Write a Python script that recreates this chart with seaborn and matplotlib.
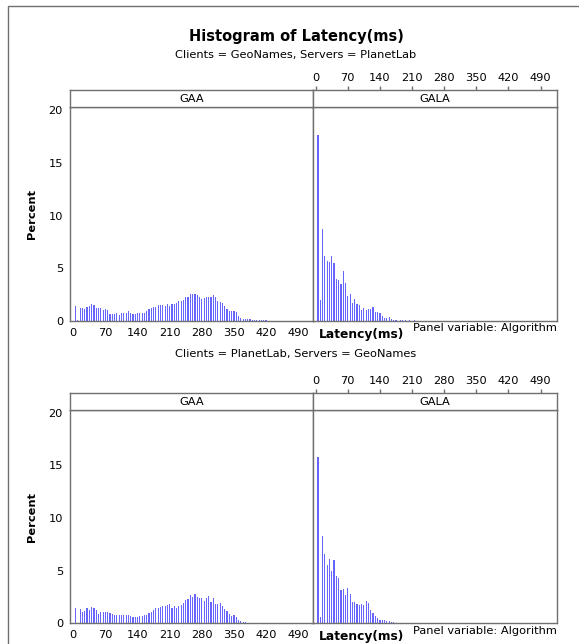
import numpy as np
import pandas as pd
import matplotlib
matplotlib.use("Agg")
import matplotlib.pyplot as plt
import seaborn as sns
from matplotlib.patches import Rectangle

# percent of requests per 5 ms latency bin (bin centres 5, 10, 15, ...)
bin_width = 5
gaa_geo_planet = [
    1.43, 0.1, 1.24, 1.24, 1.1, 1.37, 1.43, 1.62, 1.5, 1.2,
    1.2, 1.24, 1.05, 1.1, 1.0, 0.67, 0.64, 0.67, 0.73, 0.57,
    0.73, 0.73, 0.73, 0.92, 0.76, 0.64, 0.64, 0.73, 0.76, 0.8,
    0.76, 0.95, 1.1, 1.2, 1.37, 1.37, 1.53, 1.5, 1.53, 1.4,
    1.62, 1.46, 1.62, 1.62, 1.69, 1.85, 1.94, 2.0, 2.3, 2.3,
    2.58, 2.58, 2.55, 2.48, 2.3, 2.13, 2.17, 2.23, 2.26, 2.23,
    2.48, 2.26, 1.9, 1.8, 1.7, 1.43, 1.15, 0.95, 0.95, 0.95,
    0.89, 0.5, 0.3, 0.2, 0.2, 0.2, 0.15, 0.1, 0.1, 0.06,
    0.06, 0.06, 0.06, 0.06,
]
gala_geo_planet = [
    17.6, 1.96, 8.75, 6.16, 5.69, 5.56, 6.16, 5.47, 3.95, 3.89,
    3.5, 4.74, 3.6, 2.4, 2.56, 1.7, 2.08, 1.64, 1.49, 1.0,
    1.23, 1.0, 1.1, 1.1, 1.33, 0.85, 0.85, 0.73, 0.47, 0.28,
    0.28, 0.38, 0.15, 0.1, 0.06, 0.03, 0.06, 0.06, 0.06, 0.0,
    0.06, 0.0, 0.06,
]
gaa_planet_geo = [
    1.41, 0.06, 1.35, 1.12, 1.15, 1.44, 1.22, 1.54, 1.41, 1.22,
    0.93, 1.03, 1.03, 1.03, 1.03, 0.96, 0.87, 0.77, 0.77, 0.77,
    0.77, 0.77, 0.77, 0.77, 0.67, 0.61, 0.58, 0.64, 0.67, 0.67,
    0.8, 0.77, 0.99, 1.09, 1.22, 1.44, 1.44, 1.54, 1.6, 1.67,
    1.76, 1.83, 1.5, 1.67, 1.44, 1.63, 1.76, 1.89, 2.18, 2.3,
    2.69, 2.5, 2.79, 2.5, 2.37, 2.37, 2.12, 2.37, 2.6, 2.05,
    2.37, 1.83, 1.83, 1.96, 1.67, 1.35, 1.19, 0.87, 0.74, 0.77,
    0.64, 0.29, 0.22, 0.16, 0.13, 0.06, 0.06, 0.0, 0.0, 0.0,
    0.0, 0.0, 0.0, 0.0, 0.0, 0.0, 0.0, 0.0, 0.0, 0.03,
]
gala_planet_geo = [
    15.8, 0.56, 8.25, 6.6, 5.56, 6.1, 5.0, 6.03, 4.53, 4.31,
    3.19, 3.28, 2.66, 3.38, 2.75, 2.06, 2.0, 1.81, 1.75, 1.84,
    1.69, 2.1, 1.88, 1.25, 0.94, 0.7, 0.47, 0.31, 0.31, 0.31,
    0.25, 0.25, 0.1, 0.1, 0.06, 0.06,
]

algorithms = ["GAA", "GALA"]
subtitles = ["Clients = GeoNames, Servers = PlanetLab",
             "Clients = PlanetLab, Servers = GeoNames"]
series = [[gaa_geo_planet, gala_geo_planet], [gaa_planet_geo, gala_planet_geo]]
x_ticks = [0, 70, 140, 210, 280, 350, 420, 490]
y_ticks = [0, 5, 10, 15, 20]

W, H = 579, 644
BAR = "#6666ff"
GRID = "#707070"

sns.set_theme(style="white")
plt.rcParams["font.family"] = ["DejaVu Sans"]
plt.rcParams["text.color"] = "black"
plt.rcParams["axes.edgecolor"] = GRID
plt.rcParams["axes.linewidth"] = 1.0

fig = plt.figure(figsize=(W / 100, H / 100), dpi=100)


def px_axes(x0, y0, x1, y1):
    return fig.add_axes([x0 / W, 1 - y1 / H, (x1 - x0) / W, (y1 - y0) / H])


# outer frame of the graph (right / bottom edges fall outside the crop)
fig.add_artist(Rectangle((8 / W, -0.05), 1.2, 1 - 6 / H + 0.05, transform=fig.transFigure,
                         fill=False, edgecolor=GRID, linewidth=1.0))

fig.text(296 / W, 1 - 37 / H, "Histogram of Latency(ms)", ha="center", va="center",
         fontsize=10.5, fontweight="bold", color="black")

rows = [
    dict(sub_y=55, strip=(89.6, 107.3), plot=(107.3, 321), ylim=20.27),
    dict(sub_y=354, strip=(392.7, 410), plot=(410, 623.3), ylim=20.25),
]
cols = [dict(x=(70, 312.7), xlim=(-7.2, 521.6)),
        dict(x=(312.7, 556.7), xlim=(-6.5, 525))]

for r, row in enumerate(rows):
    fig.text(296 / W, 1 - row["sub_y"] / H, subtitles[r], ha="center", va="center",
             fontsize=8.2, color="black")
    for c, col in enumerate(cols):
        vals = series[r][c]
        df = pd.DataFrame({
            "latency": bin_width * np.arange(1, len(vals) + 1),
            "percent": vals,
        })
        ax = px_axes(col["x"][0], row["plot"][0], col["x"][1], row["plot"][1])
        sns.histplot(data=df, x="latency", weights="percent", binwidth=bin_width,
                     binrange=(bin_width / 2, bin_width * (len(vals) + 0.5)),
                     shrink=0.5, color=BAR, alpha=1, linewidth=0, ax=ax)
        ax.set_xlim(*col["xlim"])
        ax.set_ylim(0, row["ylim"])
        ax.set_xlabel("")
        ax.set_ylabel("")
        for s in ax.spines.values():
            s.set_color(GRID)
        ax.tick_params(colors=GRID, labelcolor="black", labelsize=8.2, length=3, width=1)
        if c == 0:
            ax.set_xticks(x_ticks)
            ax.set_yticks(y_ticks)
            ax.tick_params(axis="both", direction="out", pad=2)
        else:
            ax.set_xticks([])
            ax.set_yticks([])

        # panel strip
        sx = px_axes(col["x"][0], row["strip"][0], col["x"][1], row["strip"][1])
        sx.set_xlim(*col["xlim"])
        sx.set_yticks([])
        sx.text(0.5, 0.45, algorithms[c], transform=sx.transAxes, ha="center", va="center",
                fontsize=8.2, color="black")
        for s in sx.spines.values():
            s.set_color(GRID)
        if c == 1:
            sx.xaxis.tick_top()
            sx.set_xticks(x_ticks)
            sx.tick_params(axis="x", colors=GRID, labelcolor="black", labelsize=8.2,
                           length=3, width=1, pad=2)
        else:
            sx.set_xticks([])

    bottom = row["plot"][1]
    mid = (row["plot"][0] + row["plot"][1]) / 2
    fig.text(32 / W, 1 - mid / H, "Percent", rotation=90, ha="center", va="center",
             fontsize=8.2, fontweight="bold", color="black")
    fig.text(361 / W, 1 - (bottom + 13.5) / H, "Latency(ms)", ha="center", va="center",
             fontsize=8.8, fontweight="bold", color="black")
    fig.text(556.7 / W, 1 - (bottom + 7.5) / H, "Panel variable: Algorithm", ha="right",
             va="center", fontsize=8.2, color="black")

fig.savefig("out.png", dpi=100)
